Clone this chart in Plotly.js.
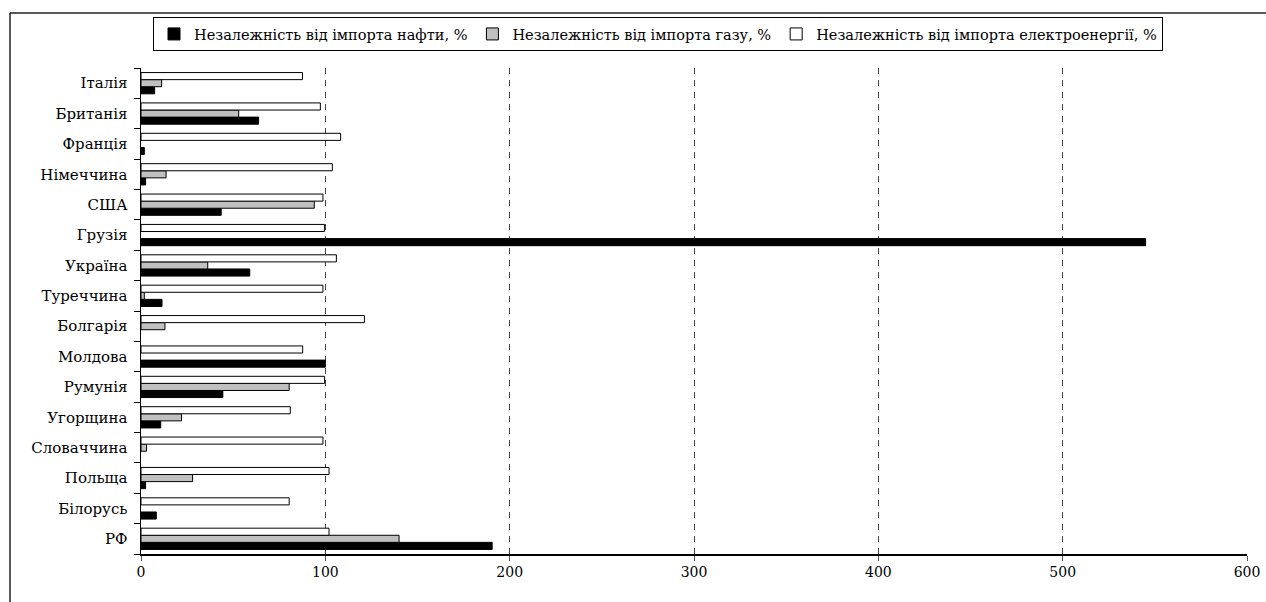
<!DOCTYPE html>
<html>
<head>
<meta charset="utf-8">
<script src="https://cdn.plot.ly/plotly-3.0.1.min.js"></script>
<style>
  html, body { margin: 0; padding: 0; background: #ffffff; }
  #chart { width: 1266px; height: 602px; }
</style>
</head>
<body>
<div id="chart"></div>
<script>
// Categories listed bottom-to-top (as they appear on the axis)
var countries = ["РФ", "Білорусь", "Польща", "Словаччина", "Угорщина", "Румунія", "Молдова", "Болгарія",
                 "Туреччина", "Україна", "Грузія", "США", "Німеччина", "Франція", "Британія", "Італія"];
var oilIndependence  = [190.5, 8.3, 2.5, null, 10.7, 44.4, 100, null, 11.4, 59, 545, 43.5, 2.5, 1.8, 63.8, 7.4];
var gasIndependence  = [140, null, 28, 3, 22, 80.4, null, 13, 1.8, 36.2, null, 94, 13.6, null, 53, 11.2];
var elecIndependence = [102, 80.4, 102, 98.7, 81, 99.6, 87.7, 121.2, 98.7, 106, 99.5, 98.7, 103.8, 108.3, 97.3, 87.6];
var seriesNames = ["Незалежність від імпорта нафти, %", "Незалежність від імпорта газу, %", "Незалежність від імпорта електроенергії, %"];
var xTicks = [0, 100, 200, 300, 400, 500, 600];

var font = "DejaVu Serif";

function barTrace(vals, name, fill) {
  return {
    type: "bar", orientation: "h",
    x: vals, y: countries, name: name,
    marker: { color: fill, line: { color: "#000000", width: 1 } },
    hoverinfo: "x+y"
  };
}

var data = [
  barTrace(oilIndependence, seriesNames[0], "#000000"),
  barTrace(gasIndependence, seriesNames[1], "#c0c0c0"),
  barTrace(elecIndependence, seriesNames[2], "#ffffff")
];

var L = 141, R = 19, T = 68, B = 48;
var W = 1266, H = 602;
var pw = W - L - R, ph = H - T - B;
function px2x(p) { return (p - L) / pw; }
function py2y(p) { return (H - B - p) / ph; }

var layout = {
  width: W, height: H,
  margin: { l: L, r: R, t: T, b: B, pad: 0 },
  paper_bgcolor: "#ffffff", plot_bgcolor: "#ffffff",
  font: { family: font, size: 15, color: "#000000" },
  barmode: "group", bargap: 0.3, bargroupgap: 0,
  showlegend: true,
  legend: {
    orientation: "h",
    x: px2x(153), xanchor: "left",
    y: py2y(17), yanchor: "top",
    bordercolor: "#000000", borderwidth: 1,
    bgcolor: "#ffffff",
    itemwidth: 30,
    font: { family: font, size: 14.5, color: "#000000" },
    traceorder: "normal"
  },
  xaxis: {
    range: [0, 600], tickvals: xTicks, ticktext: xTicks.map(String),
    showgrid: true, gridcolor: "#444444", gridwidth: 1, griddash: "6px,6px",
    zeroline: false, showline: true, linecolor: "#000000", linewidth: 1.5,
    ticks: "outside", ticklen: 5, tickcolor: "#555555",
    tickfont: { family: font, size: 14 }, fixedrange: true
  },
  yaxis: {
    type: "category", categoryorder: "array", categoryarray: countries,
    showgrid: false, zeroline: false, showline: true, linecolor: "#000000", linewidth: 1.5,
    ticks: "outside", ticklen: 6, tickcolor: "#000000", tickson: "boundaries",
    ticklabelstandoff: 9,
    tickfont: { family: font, size: 15 }, fixedrange: true
  },
  shapes: [
    { type: "line", xref: "paper", yref: "paper", x0: px2x(10), x1: px2x(1270), y0: py2y(13), y1: py2y(13),
      line: { color: "#222222", width: 1.5 } },
    { type: "line", xref: "paper", yref: "paper", x0: px2x(10), x1: px2x(10), y0: py2y(13), y1: py2y(605),
      line: { color: "#222222", width: 1.5 } }
  ]
};

Plotly.newPlot("chart", data, layout, { displayModeBar: false, staticPlot: true });
</script>
</body>
</html>
